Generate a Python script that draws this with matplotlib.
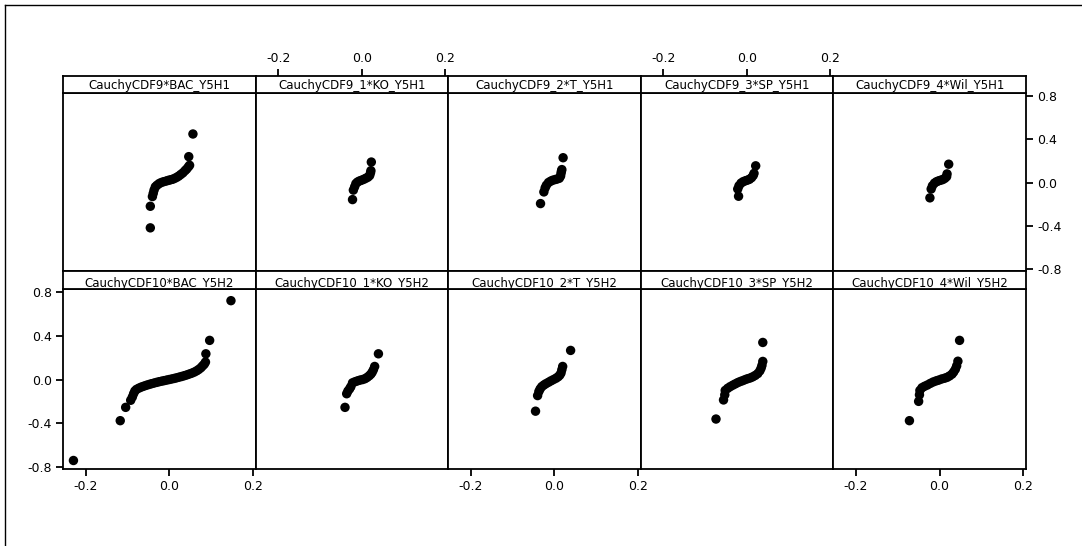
# trellis of CauchyCDF residual plots, 2 rows x 5 panels
import matplotlib
matplotlib.use("Agg")
import matplotlib.pyplot as plt
from matplotlib.lines import Line2D

plt.rcParams['font.family'] = ['DejaVu Sans']
plt.rcParams['axes.unicode_minus'] = False

titles_top = ["CauchyCDF9*BAC_Y5H1", "CauchyCDF9_1*KO_Y5H1", "CauchyCDF9_2*T_Y5H1",
              "CauchyCDF9_3*SP_Y5H1", "CauchyCDF9_4*Wil_Y5H1"]
titles_bot = ["CauchyCDF10*BAC_Y5H2", "CauchyCDF10_1*KO_Y5H2", "CauchyCDF10_2*T_Y5H2",
              "CauchyCDF10_3*SP_Y5H2", "CauchyCDF10_4*Wil_Y5H2"]

# top row
bac9_x = [-0.045, -0.045, -0.040, -0.038, -0.036, -0.033, -0.029, -0.024, -0.019, -0.013, -0.007, -0.002, 0.003,
          0.008, 0.013, 0.018, 0.023, 0.028, 0.033, 0.038, 0.042, 0.046, 0.049, 0.047, 0.057]
bac9_y = [-0.42, -0.22, -0.13, -0.10, -0.07, -0.04, -0.025, -0.01, 0.0, 0.008, 0.014, 0.02, 0.025,
          0.03, 0.038, 0.048, 0.06, 0.075, 0.09, 0.11, 0.125, 0.145, 0.16, 0.24, 0.45]
ko9_x = [-0.022, -0.020, -0.017, -0.014, -0.010, -0.005, 0.000, 0.005, 0.010, 0.015, 0.019, 0.021, 0.022, 0.023]
ko9_y = [-0.158, -0.07, -0.04, -0.01, 0.005, 0.015, 0.022, 0.03, 0.04, 0.05, 0.065, 0.09, 0.11, 0.19]
t9_x = [-0.033, -0.025, -0.022, -0.019, -0.014, -0.009, -0.004, 0.002, 0.007, 0.012, 0.015, 0.016, 0.017, 0.018, 0.021]
t9_y = [-0.195, -0.087, -0.05, -0.025, 0.0, 0.012, 0.021, 0.028, 0.033, 0.04, 0.06, 0.085, 0.105, 0.12, 0.23]
sp9_x = [-0.020, -0.022, -0.019, -0.014, -0.009, -0.004, 0.001, 0.006, 0.011, 0.015, 0.017, 0.021]
sp9_y = [-0.127, -0.06, -0.03, -0.005, 0.008, 0.016, 0.022, 0.03, 0.045, 0.065, 0.085, 0.155]
wil9_x = [-0.023, -0.020, -0.017, -0.012, -0.007, -0.002, 0.003, 0.008, 0.013, 0.017, 0.018, 0.022]
wil9_y = [-0.142, -0.06, -0.03, -0.005, 0.008, 0.016, 0.022, 0.028, 0.04, 0.055, 0.08, 0.17]

# bottom row
bac10_x = [-0.229, -0.117, -0.104, -0.092, -0.088, -0.085, -0.082, -0.078, -0.072, -0.066, -0.060, -0.054, -0.048,
           -0.042, -0.036, -0.030, -0.024, -0.018, -0.012, -0.006, 0.000, 0.006, 0.012, 0.018, 0.024, 0.030,
           0.036, 0.042, 0.048, 0.054, 0.060, 0.066, 0.071, 0.076, 0.080, 0.084, 0.087, 0.088, 0.097, 0.148]
bac10_y = [-0.742, -0.377, -0.255, -0.19, -0.16, -0.13, -0.105, -0.09, -0.078, -0.068, -0.06, -0.052, -0.045,
           -0.038, -0.032, -0.026, -0.02, -0.015, -0.01, -0.005, 0.0, 0.005, 0.01, 0.016, 0.022, 0.028,
           0.035, 0.042, 0.05, 0.058, 0.068, 0.08, 0.093, 0.108, 0.125, 0.14, 0.16, 0.236, 0.359, 0.723]
ko10_x = [-0.040, -0.036, -0.033, -0.029, -0.026, -0.022, -0.016, -0.010, -0.004, 0.002, 0.008, 0.013, 0.018,
          0.022, 0.025, 0.028, 0.031, 0.040]
ko10_y = [-0.255, -0.13, -0.105, -0.085, -0.065, -0.03, -0.02, -0.012, -0.005, 0.0, 0.008, 0.02, 0.035,
          0.05, 0.067, 0.09, 0.12, 0.236]
t10_x = [-0.045, -0.040, -0.037, -0.034, -0.030, -0.025, -0.020, -0.014, -0.008, -0.002, 0.004, 0.009, 0.013,
         0.016, 0.018, 0.020, 0.039]
t10_y = [-0.29, -0.147, -0.11, -0.086, -0.065, -0.05, -0.038, -0.025, -0.012, 0.0, 0.012, 0.025, 0.04,
         0.06, 0.09, 0.12, 0.267]
sp10_x = [-0.074, -0.056, -0.053, -0.052, -0.046, -0.040, -0.034, -0.028, -0.022, -0.016, -0.010, -0.004, 0.002,
          0.008, 0.014, 0.020, 0.026, 0.031, 0.034, 0.036, 0.038, 0.038]
sp10_y = [-0.362, -0.187, -0.14, -0.10, -0.08, -0.065, -0.052, -0.04, -0.028, -0.018, -0.01, 0.0, 0.008,
          0.015, 0.025, 0.038, 0.055, 0.08, 0.105, 0.13, 0.166, 0.34]
wil10_x = [-0.072, -0.050, -0.048, -0.047, -0.042, -0.036, -0.029, -0.022, -0.015, -0.008, -0.002, 0.005, 0.012,
           0.018, 0.024, 0.030, 0.034, 0.038, 0.041, 0.044, 0.048]
wil10_y = [-0.377, -0.20, -0.14, -0.10, -0.075, -0.062, -0.05, -0.035, -0.022, -0.012, -0.005, 0.005, 0.012,
           0.02, 0.033, 0.05, 0.07, 0.095, 0.125, 0.168, 0.359]

top_data = [(bac9_x, bac9_y), (ko9_x, ko9_y), (t9_x, t9_y), (sp9_x, sp9_y), (wil9_x, wil9_y)]
bot_data = [(bac10_x, bac10_y), (ko10_x, ko10_y), (t10_x, t10_y), (sp10_x, sp10_y), (wil10_x, wil10_y)]

xticks = [-0.2, 0.0, 0.2]
yticks = [-0.8, -0.4, 0.0, 0.4, 0.8]
xlim = (-0.254, 0.207)
ylim = (-0.82, 0.83)

W, H = 1082, 546
fig = plt.figure(figsize=(W / 100, H / 100), dpi=100)


def px(x0, y0, w, h):
    # pixel box (top-left origin) -> figure fraction
    return [x0 / W, 1 - (y0 + h) / H, w / W, h / H]


def fmt(v, p):
    return "{:.1f}".format(v)


left, right = 63, 1026
cw = (right - left) / 5
rows = [(76, 93, 271, titles_top, top_data), (271, 289, 469, titles_bot, bot_data)]
lw = 1.3

for r, (s_top, p_top, p_bot, titles, data) in enumerate(rows):
    for c in range(5):
        x0 = left + c * cw
        ax = fig.add_axes(px(x0, p_top, cw, p_bot - p_top))
        xs, ys = data[c]
        ax.scatter(xs, ys, s=46, color='black', edgecolors='none', zorder=3)
        ax.set_xlim(*xlim)
        ax.set_ylim(*ylim)
        ax.set_xticks(xticks)
        ax.set_yticks(yticks)
        ax.xaxis.set_major_formatter(fmt)
        ax.yaxis.set_major_formatter(fmt)
        for sp in ax.spines.values():
            sp.set_linewidth(lw)
        ax.tick_params(direction='out', length=5, width=lw, labelsize=9, pad=3,
                       bottom=False, labelbottom=False, left=False, labelleft=False)
        if r == 1 and c % 2 == 0:
            ax.tick_params(bottom=True, labelbottom=True)
        if r == 1 and c == 0:
            ax.tick_params(left=True, labelleft=True)
        if r == 0 and c == 4:
            ax.tick_params(right=True, labelright=True)

        # strip
        sax = fig.add_axes(px(x0, s_top, cw, p_top - s_top))
        sax.set_xlim(*xlim)
        sax.set_yticks([])
        sax.set_xticks([])
        if r == 0 and c % 2 == 1:
            # alternating top axis sits above the strip
            sax.set_xticks(xticks)
            sax.xaxis.set_major_formatter(fmt)
            sax.tick_params(direction='out', length=5, width=lw, labelsize=9, pad=3,
                            bottom=False, labelbottom=False, top=True, labeltop=True)
        for sp in sax.spines.values():
            sp.set_linewidth(lw)
        sax.text(0.5, 0.42 if r == 0 else 0.28, titles[c], ha='center', va='center', fontsize=8.5,
                 transform=sax.transAxes)

# outer frame lines (top and left)
fig.add_artist(Line2D([5 / W, 1], [1 - 5 / H, 1 - 5 / H], color='black', lw=1))
fig.add_artist(Line2D([5 / W, 5 / W], [0, 1 - 5 / H], color='black', lw=1))

fig.savefig("out.png", dpi=100)
